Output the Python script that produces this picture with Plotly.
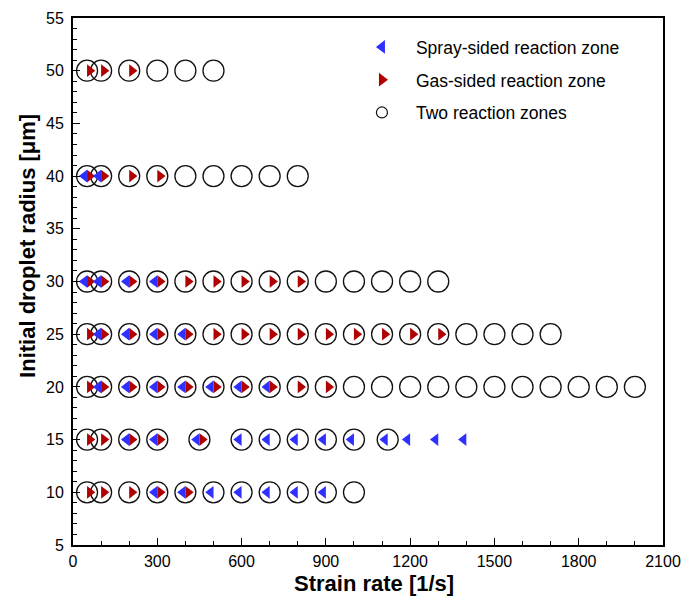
import plotly.graph_objects as go

# ---------------- data ----------------
# Points (strain rate [1/s], initial droplet radius [um]) for each marker category
circle_strain = [50, 100, 200, 300, 400, 500, 600, 700, 800, 900, 1000,
                 50, 100, 200, 300, 450, 600, 700, 800, 900, 1000, 1120,
                 50, 100, 200, 300, 400, 500, 600, 700, 800, 900, 1000, 1100, 1200, 1300, 1400, 1500, 1600, 1700, 1800, 1900, 2000,
                 50, 100, 200, 300, 400, 500, 600, 700, 800, 900, 1000, 1100, 1200, 1300, 1400, 1500, 1600, 1700,
                 50, 100, 200, 300, 400, 500, 600, 700, 800, 900, 1000, 1100, 1200, 1300,
                 50, 100, 200, 300, 400, 500, 600, 700, 800,
                 50, 100, 200, 300, 400, 500]
circle_radius = [10] * 11 + [15] * 11 + [20] * 21 + [25] * 18 + [30] * 14 + [40] * 9 + [50] * 6

spray_strain = [300, 400, 500, 600, 700, 800, 900,
                200, 300, 450, 600, 700, 800, 900, 1000, 1120, 1200, 1300, 1400,
                100, 200, 300, 400, 500, 600, 700,
                100, 200, 300, 400,
                50, 100, 200, 300,
                50, 100]
spray_radius = [10] * 7 + [15] * 12 + [20] * 7 + [25] * 4 + [30] * 4 + [40] * 2

gas_strain = [50, 100, 200, 300, 400,
              50, 100, 200, 300, 450,
              50, 100, 200, 300, 400, 500, 600, 700, 800, 900,
              50, 100, 200, 300, 400, 500, 600, 700, 800, 900, 1000, 1100, 1200, 1300,
              50, 100, 200, 300, 400, 500, 600, 700, 800,
              50, 100, 200, 300,
              50, 100, 200]
gas_radius = [10] * 5 + [15] * 5 + [20] * 10 + [25] * 14 + [30] * 9 + [40] * 4 + [50] * 3

legend_labels = ["Spray-sided reaction zone", "Gas-sided reaction zone", "Two reaction zones"]
x_title = "Strain rate [1/s]"
y_title = "Initial droplet radius [μm]"

# ---------------- style ----------------
BLUE = "#2f2fff"
RED = "#b00000"
FONT = "Liberation Sans, Arial, Helvetica, sans-serif"
X_RANGE = [0, 2100]
TRI_SIZE = 11
# triangles sit with their flat side on the point: half-side shift in data units
PLOT_W = 682 - 73 - 19
SHIFT = (TRI_SIZE / 4) * (X_RANGE[1] - X_RANGE[0]) / PLOT_W

fig = go.Figure()

fig.add_trace(go.Scatter(
    x=circle_strain, y=circle_radius, mode="markers", showlegend=False,
    marker=dict(symbol="circle-open", size=21, color="#111111", line=dict(width=1.3, color="#111111")),
    hoverinfo="x+y"))

fig.add_trace(go.Scatter(
    x=spray_strain, y=spray_radius, mode="markers", showlegend=False, xaxis="x3",
    marker=dict(symbol="triangle-left", size=TRI_SIZE, color=BLUE, line=dict(width=0))))

fig.add_trace(go.Scatter(
    x=gas_strain, y=gas_radius, mode="markers", showlegend=False, xaxis="x2",
    marker=dict(symbol="triangle-right", size=TRI_SIZE, color=RED, line=dict(width=0))))

# legend entries
fig.add_trace(go.Scatter(x=[None], y=[None], mode="markers", name=legend_labels[0], legendgroup="a",
                         marker=dict(symbol="triangle-left", size=12, color=BLUE)))
fig.add_trace(go.Scatter(x=[None], y=[None], mode="markers", name=legend_labels[1], legendgroup="b",
                         marker=dict(symbol="triangle-right", size=12, color=RED)))
fig.add_trace(go.Scatter(x=[None], y=[None], mode="markers", name=legend_labels[2], legendgroup="c",
                         marker=dict(symbol="circle-open", size=11, color="#111111",
                                     line=dict(width=1.2, color="#111111"))))

axis_common = dict(showgrid=False, zeroline=False, showline=True, linecolor="black", linewidth=2,
                   mirror=True, ticks="inside", ticklen=7, tickwidth=1.3, tickcolor="black",
                   automargin=False,
                   tickfont=dict(family=FONT, size=16, color="black"))

fig.update_layout(
    width=682, height=596,
    margin=dict(l=73, r=19, t=18, b=51),
    paper_bgcolor="white", plot_bgcolor="white",
    font=dict(family=FONT, color="black"),
    xaxis=dict(range=X_RANGE, tickmode="linear", tick0=0, dtick=300,
               minor=dict(dtick=100, ticks="inside", ticklen=4, tickwidth=1, tickcolor="black"),
               ticklabelstandoff=1, **axis_common),
    xaxis2=dict(range=[X_RANGE[0] - SHIFT, X_RANGE[1] - SHIFT], overlaying="x", visible=False),
    xaxis3=dict(range=[X_RANGE[0] + SHIFT, X_RANGE[1] + SHIFT], overlaying="x", visible=False),
    yaxis=dict(range=[5, 55], tickmode="linear", tick0=5, dtick=5,
               minor=dict(dtick=1, ticks="inside", ticklen=4, tickwidth=1, tickcolor="black"),
               ticklabelstandoff=4, **axis_common),
    legend=dict(x=0.466, y=0.979, xanchor="left", yanchor="top", bgcolor="rgba(0,0,0,0)",
                font=dict(family=FONT, size=17.5, color="black"), itemwidth=58,
                tracegroupgap=7, traceorder="grouped"),
    annotations=[
        dict(text=x_title, xref="paper", yref="paper", x=0.5105, y=-0.073,
             xanchor="center", yanchor="middle", showarrow=False,
             font=dict(family=FONT, size=22, weight="bold", color="black")),
        dict(text=y_title, xref="paper", yref="paper", x=-0.0776, y=0.568, textangle=-90,
             xanchor="center", yanchor="middle", showarrow=False,
             font=dict(family=FONT, size=22, weight="bold", color="black")),
    ],
)

fig.write_html("out.html")
